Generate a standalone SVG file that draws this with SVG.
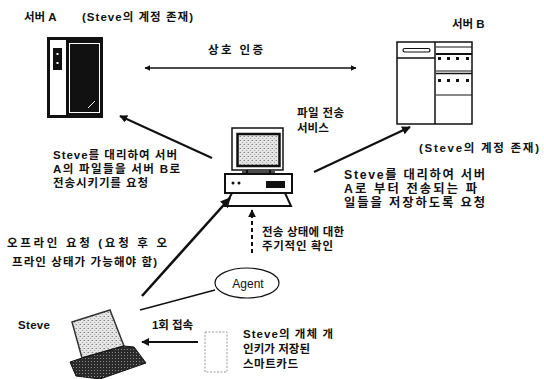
<svg xmlns="http://www.w3.org/2000/svg" width="544" height="379" viewBox="0 0 544 379">
  <style>
    .t { font-family: "Liberation Sans", "Noto Sans CJK KR", sans-serif; font-size: 11.5px; font-weight: bold; fill: #111; }
    .big { font-size: 12.3px; }
    .lat { font-family: "Liberation Sans", "Noto Sans", sans-serif; font-size: 12px; fill: #111; }
    .ln { stroke: #111; fill: none; stroke-linecap: butt; }
  </style>
  <defs>
    <pattern id="stipple" width="4" height="4" patternUnits="userSpaceOnUse">
      <rect width="4" height="4" fill="#e4e4e4"/>
      <rect x="0" y="0" width="1" height="1" fill="#888"/>
      <rect x="2" y="2" width="1" height="1" fill="#aaa"/>
      <rect x="3" y="0" width="1" height="1" fill="#bbb"/>
    </pattern>
    <pattern id="darkStipple" width="3" height="3" patternUnits="userSpaceOnUse">
      <rect width="3" height="3" fill="#2a2a2a"/>
      <rect x="1" y="1" width="1" height="1" fill="#888"/>
    </pattern>
    <marker id="arrow" viewBox="0 0 10 10" refX="9" refY="5" markerWidth="4" markerHeight="4" orient="auto-start-reverse" markerUnits="strokeWidth">
      <path d="M0,0 L10,5 L0,10 z" fill="#111"/>
    </marker>
  </defs>

  <!-- Server A -->
  <g id="server-a">
    <rect x="47" y="37" width="56" height="81" fill="#111"/>
    <rect x="50" y="40" width="16" height="75" fill="#fff"/>
    <rect x="53" y="48" width="9" height="22" fill="#111"/>
    <rect x="56.5" y="53" width="2" height="2" fill="#fff"/>
    <rect x="56.5" y="62" width="2" height="2" fill="#fff"/>
    <rect x="69.5" y="43.5" width="30" height="69" fill="#111" stroke="#fff" stroke-width="1"/>
    <path d="M88,108 L95,101" stroke="#fff" stroke-width="1"/>
    <text class="t" x="24" y="21">서버 A</text>
    <text class="t" x="82" y="21" textLength="111" lengthAdjust="spacing">(Steve의 계정 존재)</text>
  </g>

  <!-- Server B -->
  <g id="server-b">
    <rect x="397" y="42" width="75" height="82" fill="#fff" stroke="#111" stroke-width="1.5"/>
    <line class="ln" x1="435" y1="42" x2="435" y2="124" stroke-width="1.5"/>
    <line class="ln" x1="397" y1="58" x2="435" y2="58" stroke-width="1.5"/>
    <rect x="403" y="48.5" width="27" height="3.5" rx="1.7" fill="#fff" stroke="#111" stroke-width="1.2"/>
    <line class="ln" x1="436" y1="47" x2="472" y2="47" stroke-width="1"/>
    <line class="ln" x1="436" y1="54" x2="472" y2="54" stroke-width="2"/>
    <line class="ln" x1="436" y1="71" x2="472" y2="71" stroke-width="1"/>
    <line class="ln" x1="436" y1="73.5" x2="472" y2="73.5" stroke-width="1.5"/>
    <line class="ln" x1="436" y1="95" x2="472" y2="95" stroke-width="1"/>
    <g fill="#111">
      <rect x="438" y="57" width="3" height="3"/><rect x="447" y="57" width="3" height="3"/>
      <rect x="456" y="57" width="3" height="3"/><rect x="466" y="57" width="3" height="3"/>
      <rect x="438" y="79" width="3" height="3"/><rect x="447" y="79" width="3" height="3"/>
      <rect x="456" y="79" width="3" height="3"/><rect x="466" y="79" width="3" height="3"/>
    </g>
    <text class="t" x="452" y="28">서버 B</text>
    <text class="t" x="419" y="152" textLength="120" lengthAdjust="spacing">(Steve의 계정 존재)</text>
  </g>

  <!-- File transfer service (workstation) -->
  <g id="transfer-service">
    <rect x="232" y="128" width="51" height="42" fill="#fff" stroke="#111" stroke-width="1.5"/>
    <rect x="237.5" y="134" width="42" height="32" fill="url(#stipple)" stroke="#111" stroke-width="2.5"/>
    <line class="ln" x1="242" y1="172" x2="275" y2="172" stroke-width="1.5"/>
    <line class="ln" x1="247" y1="170" x2="247" y2="174" stroke-width="2"/>
    <line class="ln" x1="270" y1="170" x2="270" y2="174" stroke-width="2"/>
    <rect x="225" y="174" width="67" height="19" fill="#fff" stroke="#111" stroke-width="2"/>
    <circle cx="233" cy="183" r="1.5" fill="#111"/>
    <circle cx="239" cy="183" r="1.5" fill="#111"/>
    <rect x="266" y="181" width="19" height="7" fill="#111"/>
    <polygon points="232,193 285,193 291,206 225,206" fill="#fff" stroke="#111" stroke-width="2"/>
    <text class="t" x="297" y="117" textLength="47" lengthAdjust="spacing">파일 전송</text>
    <text class="t" x="297" y="132">서비스</text>
  </g>

  <!-- Agent -->
  <g id="agent">
    <ellipse cx="247" cy="283" rx="32" ry="15" fill="#fff" stroke="#111" stroke-width="1.2"/>
    <text class="lat" x="248" y="287.5" text-anchor="middle">Agent</text>
  </g>

  <!-- Steve's laptop -->
  <g id="steve">
    <polygon points="72,322 110,310 124,346 82,358" fill="url(#stipple)" stroke="#333" stroke-width="1.5"/>
    <polygon points="70,362 82,358 124,346 134,347 146,363 100,379 76,376" fill="url(#darkStipple)" stroke="#111" stroke-width="1"/>
    <text class="t" x="18" y="329" textLength="32" lengthAdjust="spacing">Steve</text>
  </g>

  <!-- Smart card -->
  <g id="smart-card">
    <rect x="205" y="332" width="22" height="40" fill="#fff" stroke="#999" stroke-width="1" stroke-dasharray="2,1.5"/>
    <text class="t" x="243" y="338" textLength="90" lengthAdjust="spacing">Steve의 개체 개</text>
    <text class="t" x="243" y="353" textLength="67" lengthAdjust="spacing">인키가 저장된</text>
    <text class="t" x="243" y="368" textLength="55" lengthAdjust="spacing">스마트카드</text>
  </g>

  <!-- Connectors -->
  <g id="connectors">
    <line class="ln" x1="145" y1="68" x2="356" y2="68" stroke-width="1.5" marker-start="url(#arrow)" marker-end="url(#arrow)"/>
    <line class="ln" x1="212" y1="158" x2="120" y2="116" stroke-width="2" marker-end="url(#arrow)"/>
    <line class="ln" x1="314" y1="172" x2="410" y2="127" stroke-width="2.2" marker-end="url(#arrow)"/>
    <line class="ln" x1="142" y1="296" x2="230" y2="198" stroke-width="2.6" marker-end="url(#arrow)"/>
    <line class="ln" x1="252" y1="253" x2="252" y2="210" stroke-width="2" stroke-dasharray="4,3" marker-end="url(#arrow)"/>
    <line class="ln" x1="140" y1="310" x2="215" y2="290" stroke-width="1.3"/>
    <line class="ln" x1="198" y1="342" x2="142" y2="342" stroke-width="2" marker-end="url(#arrow)"/>
  </g>

  <!-- Connector labels -->
  <g id="labels">
    <text class="t" x="208" y="54" textLength="55" lengthAdjust="spacing">상호 인증</text>
    <text class="t" x="53" y="159" textLength="124" lengthAdjust="spacing">Steve를 대리하여 서버</text>
    <text class="t" x="53" y="173" textLength="127" lengthAdjust="spacing">A의 파일들을 서버 B로</text>
    <text class="t" x="53" y="187" textLength="95" lengthAdjust="spacing">전송시키기를 요청</text>
    <text class="t big" x="344" y="179" textLength="141" lengthAdjust="spacing">Steve를 대리하여 서버</text>
    <text class="t big" x="344" y="193" textLength="133" lengthAdjust="spacing">A로 부터 전송되는 파</text>
    <text class="t big" x="344" y="207" textLength="141" lengthAdjust="spacing">일들을 저장하도록 요청</text>
    <text class="t" x="262" y="236" textLength="82" lengthAdjust="spacing">전송 상태에 대한</text>
    <text class="t" x="262" y="250" textLength="71" lengthAdjust="spacing">주기적인 확인</text>
    <text class="t" x="7" y="247" textLength="160" lengthAdjust="spacing">오프라인 요청 (요청 후 오</text>
    <text class="t" x="12" y="266" textLength="145" lengthAdjust="spacing">프라인 상태가 가능해야 함)</text>
    <text class="t" x="152" y="329" textLength="41" lengthAdjust="spacing">1회 접속</text>
  </g>
</svg>
